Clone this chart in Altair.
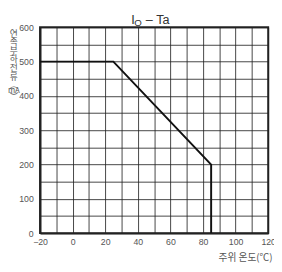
import altair as alt
import pandas as pd

temps = [-20, 25, 85, 85]
currents = [500, 500, 200, 0]
x_ticks = list(range(-20, 121, 10))
y_ticks = list(range(0, 601, 50))
ylab_chars = ["연", "속", "부", "하", "전", "류", "︵", "mA", "︶"]

df = pd.DataFrame({"t": temps, "i": currents, "o": list(range(len(temps)))})

W, H = 235, 212
FONT = "Liberation Sans"
KFONT = "Noto Sans CJK KR"
GRAY = "#555555"

xs = alt.Scale(domain=[-20, 120], nice=False)
ys = alt.Scale(domain=[0, 600], nice=False)

line = alt.Chart(df).mark_line(color="#111111", strokeWidth=2).encode(
    x=alt.X("t:Q", scale=xs,
            axis=alt.Axis(values=x_ticks, labelExpr="datum.value % 20 == 0 ? datum.label : ''",
                          title="주위 온도(℃)", titleX=239, titleY=28, titleAlign="right",
                          titleBaseline="alphabetic", titleFont=KFONT,
                          titleFontSize=10, titleFontWeight="normal", titleColor=GRAY,
                          labelFont=FONT, labelFontSize=9, labelColor=GRAY, labelPadding=5,
                          tickSize=0, grid=True, gridColor="#222222", gridWidth=1, gridOpacity=0.85,
                          domainColor="#222222", domainWidth=2, labelFlush=False)),
    y=alt.Y("i:Q", scale=ys,
            axis=alt.Axis(values=y_ticks, labelExpr="datum.value % 100 == 0 ? datum.label : ''",
                          title=None, labelFont=FONT, labelFontSize=9, labelColor=GRAY,
                          labelPadding=7, tickSize=0, grid=True, gridColor="#222222",
                          gridWidth=1, gridOpacity=0.85, domainColor="#222222", domainWidth=2)),
    order="o:Q",
)

base = alt.Chart(pd.DataFrame({"a": [0]}))
layers = [line]
layers.append(base.mark_text(align="left", baseline="alphabetic", fontSize=13, font=FONT, color="#333333").encode(
    x=alt.value(94), y=alt.value(-3), text=alt.value("I")))
layers.append(base.mark_text(align="left", baseline="alphabetic", fontSize=10, font=FONT, color="#333333").encode(
    x=alt.value(97), y=alt.value(-1), text=alt.value("O")))
layers.append(base.mark_text(align="left", baseline="alphabetic", fontSize=13, font=FONT, color="#333333").encode(
    x=alt.value(109), y=alt.value(-3), text=alt.value("– Ta")))

ylab_y = [7, 15.5, 24, 33, 42, 51, 59, 65.5, 72]
for ch, yy in zip(ylab_chars, ylab_y):
    layers.append(base.mark_text(align="center", baseline="middle",
                                 fontSize=8 if ch == "mA" else 9,
                                 font=KFONT, color=GRAY).encode(
        x=alt.value(-27), y=alt.value(yy), text=alt.value(ch)))

chart = alt.layer(*layers).properties(
    width=W, height=H,
    autosize=alt.AutoSizeParams(type="none"),
    padding={"left": 33, "top": 16, "right": 6, "bottom": 31},
).configure_view(stroke="#222222", strokeWidth=2)

chart.save("out.html", embed_options={"renderer": "svg", "actions": False})
